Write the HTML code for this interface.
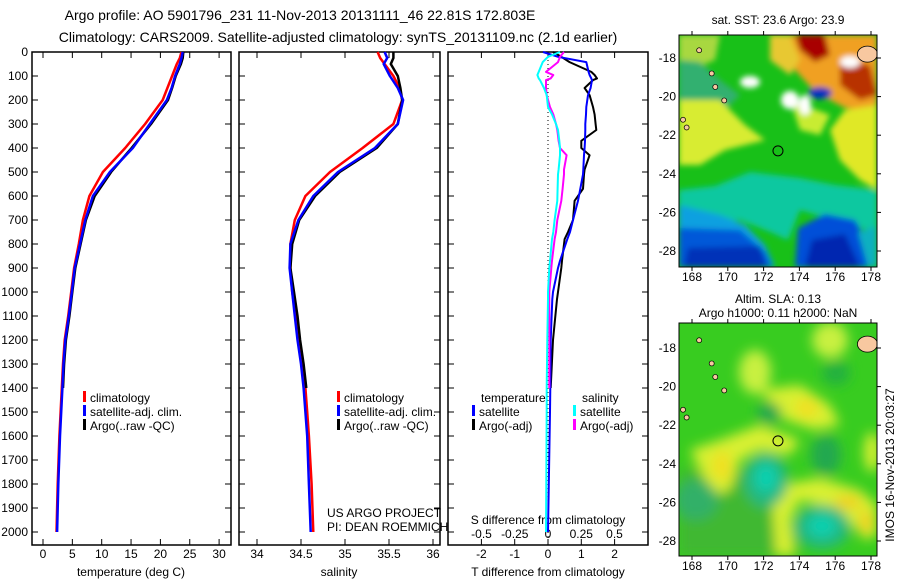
<!DOCTYPE html>
<html><head><meta charset="utf-8"><style>
html,body{margin:0;padding:0;background:#fff}
svg{display:block}
text{font-family:"Liberation Sans",sans-serif;fill:#000}
</style></head><body>
<svg id="chart" width="900" height="580" viewBox="0 0 900 580">
<defs>
<filter id="blur1" x="-20%" y="-20%" width="140%" height="140%"><feGaussianBlur stdDeviation="3"/></filter>
<filter id="blur2" x="-20%" y="-20%" width="140%" height="140%"><feGaussianBlur stdDeviation="6"/></filter>
<clipPath id="clipM1"><rect x="679" y="35" width="198" height="232"/></clipPath>
<clipPath id="clipM2"><rect x="679" y="323" width="198" height="233"/></clipPath>
</defs>
<text x="300" y="20" font-size="14" text-anchor="middle">Argo profile: AO 5901796_231 11-Nov-2013 20131111_46 22.81S 172.803E</text>
<text x="338" y="42" font-size="14" text-anchor="middle">Climatology: CARS2009. Satellite-adjusted climatology: synTS_20131109.nc (2.1d earlier)</text>
<g id="plots"></g>
<g id="maps"></g>
</svg>
<script>
// depth levels (dbar) for profile curves
const depths = [0,25,50,100,150,200,300,400,500,600,700,800,900,1000,1100,1200,1300,1400,1500,1600,1800,2000];
// temperature (deg C)
const tempClim = [23.6,23.3,22.8,22.0,21.2,20.4,17.4,14.0,10.2,7.9,6.8,6.1,5.3,4.8,4.3,3.7,3.4,3.2,3.0,2.8,2.5,2.3];
const tempSat  = [23.8,23.6,23.3,22.5,21.9,21.1,18.2,15.3,11.4,8.5,7.2,6.3,5.4,4.9,4.4,3.8,3.5,3.3,3.1,2.9,2.6,2.4];
const tempArgo = [23.9,23.8,23.5,22.6,22.0,21.3,18.4,15.1,11.6,8.8,7.3,6.4,5.5,5.0,4.5,3.9,3.6,3.4];
// salinity (PSU)
const salClim = [35.37,35.40,35.45,35.55,35.62,35.65,35.55,35.20,34.83,34.55,34.43,34.38,34.38,34.40,34.44,34.48,34.52,34.55,34.57,34.59,34.62,34.64];
const salSat  = [35.45,35.48,35.44,35.51,35.60,35.66,35.60,35.34,34.92,34.64,34.47,34.38,34.37,34.40,34.43,34.46,34.50,34.53,34.55,34.57,34.59,34.61];
const salArgo = [35.55,35.55,35.52,35.60,35.63,35.65,35.60,35.36,34.94,34.66,34.48,34.40,34.38,34.42,34.46,34.49,34.53,34.56];
// difference profiles
const diffDepths = [0,20,42,83,96,110,117,150,180,229,260,300,325,370,400,430,490,510,570,620,700,750,780,870,900,1000,1030,1200,1400,1500,2000];
const tDiffSat  = [-0.15,0.3,1.15,1.22,1.25,1.3,1.32,1.28,1.2,1.15,1.14,1.12,1.12,1.11,1.1,1.08,1.06,1.05,0.97,0.9,0.75,0.66,0.58,0.36,0.3,0.15,0.13,0.08,0.07,0.06,0.0];
const tDiffArgo = [0.15,0.4,0.65,1.3,1.4,1.47,1.35,1.1,1.25,1.35,1.4,1.43,1.45,1.0,1.0,1.25,1.1,1.08,1.05,0.8,0.75,0.6,0.5,0.42,0.4,0.3,0.27,0.15,0.08];
const sDiffSat  = [0.09,0.0,-0.04,-0.07,-0.08,-0.07,-0.06,-0.03,-0.01,0.0,0.03,0.06,0.075,0.085,0.09,0.09,0.08,0.075,0.072,0.07,0.05,0.04,0.03,0.015,0.01,0.0,0.0,-0.005,-0.01,-0.01,-0.015];
const sDiffArgo = [0.12,0.09,0.075,-0.015,0.04,0.02,-0.015,-0.015,-0.01,0.015,0.04,0.06,0.07,0.08,0.09,0.14,0.12,0.12,0.11,0.1,0.07,0.06,0.05,0.03,0.025,0.01,0.01,0.01,0.01];
// axis ticks
const depthTicks = [0,100,200,300,400,500,600,700,800,900,1000,1100,1200,1300,1400,1500,1600,1700,1800,1900,2000];
const tempTicks = [0,5,10,15,20,25,30];
const salTicks = [34,34.5,35,35.5,36];
const tDiffTicks = [-2,-1,0,1,2];
const sDiffTicks = [-0.5,-0.25,0,0.25,0.5];
const sDiffTickLabels = ["-0.5","-0.25","0","0.25","0.5"];
const lonTicks = [168,170,172,174,176,178];
const latTicks = [-18,-20,-22,-24,-26,-28];
const argoLon = 172.803, argoLat = -22.81;

const NS='http://www.w3.org/2000/svg';
function mk(tag, attrs, parent){const e=document.createElementNS(NS,tag);for(const k in attrs)e.setAttribute(k,attrs[k]);parent.appendChild(e);return e;}
const plots=document.getElementById('plots');
const Y0=52, Y1=545;
const yD = d => Y0 + d*0.24;
const xT = t => 43 + t*5.87;
const xS = s => 257 + (s-34)*88;
const xTD = v => 548 + v*33.3;
const xSD = v => 548 + v*133;

function panel(name, x0, x1){
  const r=mk('rect',{x:x0,y:Y0,width:x1-x0,height:Y1-Y0,fill:'none',stroke:'#000','stroke-width':1.5},plots);
  
  
  depthTicks.forEach(d=>{
    mk('line',{x1:x0,x2:x0+6,y1:yD(d),y2:yD(d),stroke:'#000'},plots);
    mk('line',{x1:x1,x2:x1-6,y1:yD(d),y2:yD(d),stroke:'#000'},plots);
  });
}
function xTicks(xs, fn, x0, labels, ly){
  xs.forEach((v,i)=>{
    const x=fn(v);
    mk('line',{x1:x,x2:x,y1:Y1,y2:Y1-6,stroke:'#000'},plots);
    mk('line',{x1:x,x2:x,y1:Y0,y2:Y0+6,stroke:'#000'},plots);
    if(labels){const t=mk('text',{x:x,y:ly,'font-size':12,'text-anchor':'middle'},plots);t.textContent=labels[i];
      
      }
  });
}
function curve(name, xs, ds, fx, color, w){
  const pts=xs.map((v,i)=>fx(v).toFixed(1)+','+yD(ds[i]).toFixed(1)).join(' ');
  const p=mk('polyline',{points:pts,fill:'none',stroke:color,'stroke-width':w||2.5,'stroke-linejoin':'round'},plots);
  
  
}
function label(txt,x,y,name,anchor,size){
  const t=mk('text',{x:x,y:y,'font-size':size||12,'text-anchor':anchor||'start'},plots);t.textContent=txt;
  
  
  return t;
}
function legendEntry(x,y,color,txt,name){
  mk('rect',{x:x,y:y-11,width:3,height:11,fill:color},plots);
  label(txt,x+7,y,name);
}

// Panel 1 temperature
panel('temperature-panel',32,231);
depthTicks.forEach(d=>{label(String(d),28,yD(d)+4,'y-tick-label','end');});
xTicks(tempTicks,xT,32,tempTicks.map(String),558);
label('temperature (deg C)',131,576,'x-axis-title-temperature','middle');
curve('temp-climatology',tempClim,depths,xT,'#f00');
curve('temp-argo',tempArgo,depths,xT,'#000');
curve('temp-satellite',tempSat,depths,xT,'#00f');
legendEntry(83,402,'#f00','climatology','legend-climatology');
legendEntry(83,416,'#00f','satellite-adj. clim.','legend-satellite');
legendEntry(83,430,'#000','Argo(..raw -QC)','legend-argo');

// Panel 2 salinity
panel('salinity-panel',239,440);
xTicks(salTicks,xS,239,salTicks.map(String),558);
label('salinity',339,576,'x-axis-title-salinity','middle');
curve('sal-climatology',salClim,depths,xS,'#f00');
curve('sal-argo',salArgo,depths,xS,'#000');
curve('sal-satellite',salSat,depths,xS,'#00f');
legendEntry(337,402,'#f00','climatology','legend-climatology-2');
legendEntry(337,416,'#00f','satellite-adj. clim.','legend-satellite-2');
legendEntry(337,430,'#000','Argo(..raw -QC)','legend-argo-2');
label('US ARGO PROJECT',327,517,'project-label');
label('PI: DEAN ROEMMICH',327,531,'pi-label');

// Panel 3 differences
panel('difference-panel',448,648);
mk('line',{x1:548,x2:548,y1:Y0,y2:Y1,stroke:'#000','stroke-dasharray':'1,3'},plots);
xTicks(tDiffTicks,xTD,448,tDiffTicks.map(String),558);
sDiffTicks.forEach((v,i)=>{label(sDiffTickLabels[i],xSD(v),538,'s-diff-tick-label','middle');});
label('S difference from climatology',548,524,'s-diff-axis-title','middle');
label('T difference from climatology',548,576,'t-diff-axis-title','middle');
const dd=diffDepths;
curve('t-diff-argo',tDiffArgo,dd.slice(0,tDiffArgo.length),xTD,'#000',2);
curve('t-diff-satellite',tDiffSat,dd,xTD,'#00f',2);
curve('s-diff-argo',sDiffArgo,dd.slice(0,sDiffArgo.length),xSD,'#f0f',2);
curve('s-diff-satellite',sDiffSat,dd,xSD,'#0ff',2);
label('temperature',481,402,'legend-title-temperature');
label('salinity',582,402,'legend-title-salinity');
legendEntry(472,416,'#00f','satellite','legend-t-satellite');
legendEntry(472,430,'#000','Argo(-adj)','legend-t-argo');
legendEntry(573,416,'#0ff','satellite','legend-s-satellite');
legendEntry(573,430,'#f0f','Argo(-adj)','legend-s-argo');

// Maps
const maps=document.getElementById('maps');
const mx = lon => 692 + (lon-168)*17.9;
function mapFrame(name,top,bot,lat18,title1,title2,clip,shapes,bg,blurId){
  const g=mk('g',{'clip-path':'url(#'+clip+')'},maps);
  
  
  mk('rect',{x:679,y:top,width:198,height:bot-top,fill:bg},g);
  const gb=mk('g',{filter:'url(#'+blurId+')'},g);
  shapes.forEach(s=>{
    if(s[0]==='p') mk('polygon',{points:s[1],fill:s[2]},gb);
    else if(s[0]==='r') mk('ellipse',{cx:s[1],cy:s[2],rx:s[3],ry:s[4],fill:'none',stroke:s[5],'stroke-width':s[6]},gb);
    else mk('ellipse',{cx:s[1],cy:s[2],rx:s[3],ry:s[4],fill:s[5]},gb);
  });
  const my = lat => lat18 + (-18-lat)*19.3;
  [[168.4,-17.6],[169.1,-18.8],[169.3,-19.5],[169.8,-20.2],[167.5,-21.2],[167.7,-21.6]].forEach(p=>mk('circle',{cx:mx(p[0]),cy:my(p[1]),r:2.5,fill:'#f8c8a0',stroke:'#000','stroke-width':0.7},g));
  mk('ellipse',{cx:mx(177.8),cy:my(-17.8),rx:10,ry:8,fill:'#f8c8a0',stroke:'#000','stroke-width':0.8},g);
  const c=mk('circle',{cx:mx(argoLon),cy:my(argoLat),r:5,fill:'none',stroke:'#000','stroke-width':1},maps);
  
  
  const f=mk('rect',{x:679,y:top,width:198,height:bot-top,fill:'none',stroke:'#000','stroke-width':1},maps);
  
  
  lonTicks.forEach(l=>{
    mk('line',{x1:mx(l),x2:mx(l),y1:top,y2:top-4,stroke:'#000'},maps);
    mk('line',{x1:mx(l),x2:mx(l),y1:bot,y2:bot+4,stroke:'#000'},maps);
    const t=mk('text',{x:mx(l),y:bot+14,'font-size':12,'text-anchor':'middle'},maps);t.textContent=String(l);
    
    
  });
  latTicks.forEach(l=>{
    mk('line',{x1:877,x2:881,y1:my(l),y2:my(l),stroke:'#000'},maps);
    const t=mk('text',{x:676,y:my(l)+4,'font-size':12,'text-anchor':'end'},maps);t.textContent=String(l);
    
    
  });
  if(title1){const t=mk('text',{x:778,y:title2?top-20:top-11,'font-size':12,'text-anchor':'middle'},maps);t.textContent=title1;
    
    }
  if(title2){const t=mk('text',{x:778,y:top-6,'font-size':12,'text-anchor':'middle'},maps);t.textContent=title2;
    
    }
}
mapFrame('sst-map',35,267,58,'sat. SST: 23.6 Argo: 23.9',null,'clipM1',[
  ['p','679,35 720,35 715,60 690,70 679,70','#a8d840'],
  ['p','679,60 700,62 720,80 740,95 725,110 679,105','#30b070'],
  ['p','679,100 720,100 745,125 765,140 725,150 700,165 679,165','#d8ec30'],
  ['p','780,35 877,35 877,112 845,108 815,92 795,70 775,48','#f0a020'],
  ['p','795,35 825,35 830,55 815,62 800,50','#a80000'],
  ['p','840,60 870,65 877,95 860,100 840,85','#b83000'],
  ['p','770,35 790,35 800,60 790,75 770,60','#e8c830'],
  ['p','877,105 845,110 830,130 840,160 860,180 877,190','#e0e828'],
  ['p','790,100 830,115 820,135 800,130','#c8ec30'],
  ['p','679,190 715,186 750,172 800,178 835,185 877,190 877,232 840,222 800,210 788,240 770,232 740,220 715,222 679,225','#10c8a0'],
  ['p','679,205 720,215 745,225 765,245 775,267 679,267','#10a0e0'],
  ['p','679,228 740,230 765,252 772,267 679,267','#0058d8'],
  ['p','688,248 760,246 766,267 684,267','#0030b8'],
  ['p','795,267 798,228 825,214 855,220 870,245 872,267','#0050d8'],
  ['p','805,267 812,240 845,234 860,267','#0028b0'],
  ['p','858,232 877,226 877,267 868,267','#10b0c0'],
  ['e',750,82,10,6,'#ffffff'],['e',790,100,9,9,'#ffffff'],['e',850,62,10,6,'#ffffff'],['e',805,105,6,10,'#ffffff'],
  ['e',820,93,12,6,'#0030c0']
],'#18c018','blur1');
mapFrame('sla-map',323,556,348,'Altim. SLA: 0.13','Argo h1000: 0.11 h2000: NaN','clipM2',[
  ['p','679,470 779,470 800,556 679,556','#40b830'],
  ['e',755,372,16,22,'#c8f040'],['e',830,340,18,18,'#c8f040'],
  ['p','760,390 800,385 830,405 840,425 815,430 785,420','#d8f030'],
  ['e',807,408,12,10,'#f0e020'],
  ['p','690,450 720,440 760,425 800,440 790,455 760,450 740,460 730,490 715,495 700,470','#d8f030'],
  ['e',722,466,10,15,'#f0e020'],
  ['p','779,485 820,478 860,490 877,505 877,535 865,540 840,510 800,500 790,520 795,556 776,556 772,500','#d8f030'],
  ['e',848,502,14,7,'#f0d020'],['e',866,522,7,12,'#f0d020'],
  ['e',872,452,8,20,'#d8f030'],
  ['e',766,480,22,27,'#20b880'],['e',766,478,11,14,'#10d0b0'],
  ['e',822,527,28,22,'#20b880'],['e',822,526,14,11,'#10d0b0'],
  ['e',696,500,22,20,'#30b068'],
  ['e',769,413,12,11,'#20a850'],['e',826,455,15,20,'#20a850'],['e',836,373,14,12,'#20b040']
],'#38cc20','blur2');
const stamp=mk('text',{x:0,y:0,'font-size':12,'text-anchor':'middle',transform:'translate(894,465) rotate(-90)'},maps);
stamp.textContent='IMOS 16-Nov-2013 20:03:27';


</script>
</body></html>
